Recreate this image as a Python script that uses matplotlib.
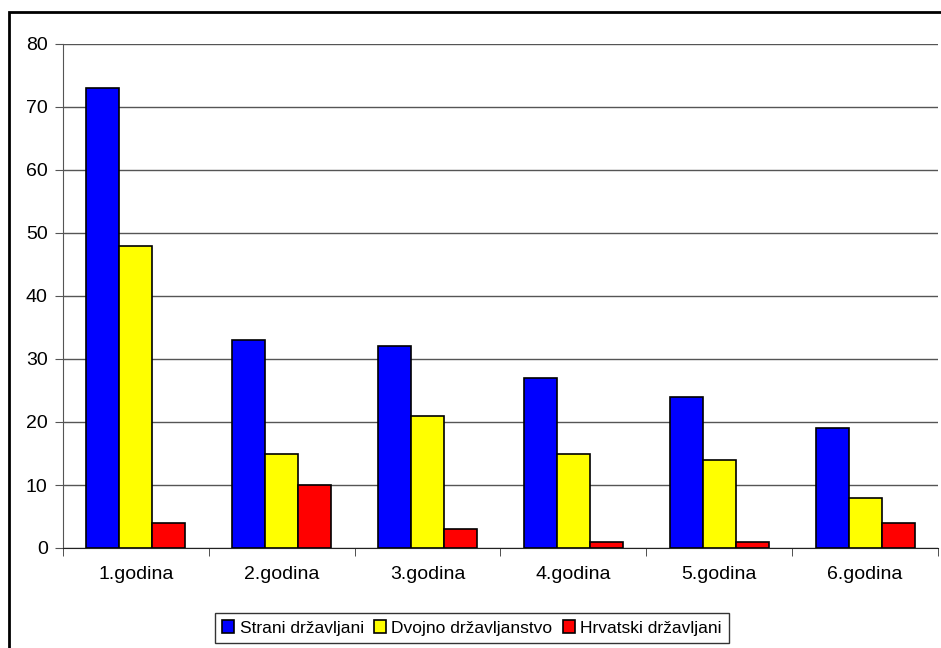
import numpy as np
import matplotlib.pyplot as plt
from matplotlib.patches import Rectangle

plt.rcParams['font.family'] = ['Liberation Sans', 'DejaVu Sans']

categories = ['1.godina', '2.godina', '3.godina', '4.godina', '5.godina', '6.godina']
strani = [73, 33, 32, 27, 24, 19]
dvojno = [48, 15, 21, 15, 14, 8]
hrvatski = [4, 10, 3, 1, 1, 4]
series_names = ['Strani državljani', 'Dvojno državljanstvo', 'Hrvatski državljani']
colors = ['#0000ff', '#ffff00', '#ff0000']

fig = plt.figure(figsize=(9.41, 6.48), dpi=100)
ax = fig.add_axes([63 / 941, 1 - 548 / 648, (938 - 63) / 941, (548 - 44) / 648])

x = np.arange(len(categories))
w = 0.226
for i, (vals, name, c) in enumerate(zip([strani, dvojno, hrvatski], series_names, colors)):
    ax.bar(x + (i - 1) * w, vals, width=w, color=c, edgecolor='black', linewidth=1.2,
           label=name, zorder=3)

ax.set_xlim(-0.5, len(categories) - 0.5)
ax.set_ylim(0, 80)
ax.set_yticks(np.arange(0, 81, 10))
ax.yaxis.grid(True, color='#555555', linewidth=1.0, zorder=0)
ax.set_xticks(x)
ax.set_xticklabels(categories)
ax.set_xticks(np.arange(-0.5, len(categories)), minor=True)
ax.tick_params(axis='x', which='major', length=0, pad=13, labelsize=14)
ax.tick_params(axis='x', which='minor', length=6, color='#333333')
ax.tick_params(axis='y', length=6, color='#555555', labelsize=14, pad=5)
for s in ['top', 'right']:
    ax.spines[s].set_visible(False)
ax.spines['left'].set_color('#555555')
ax.spines['bottom'].set_color('#222222')

leg = fig.legend(loc='center', bbox_to_anchor=(472 / 941, 1 - 628 / 648), ncol=3,
                 frameon=True, fancybox=False, edgecolor='black', fontsize=12.5,
                 handlelength=0.7, handleheight=0.7, handletextpad=0.3,
                 columnspacing=0.6, borderpad=0.4)
leg.get_frame().set_linewidth(1.0)

fig.patches.append(Rectangle((9 / 941, -0.05), 1.0, 1 - 12 / 648 + 0.05,
                             transform=fig.transFigure, fill=False,
                             edgecolor='black', linewidth=2))

fig.savefig('out.png', dpi=100)
